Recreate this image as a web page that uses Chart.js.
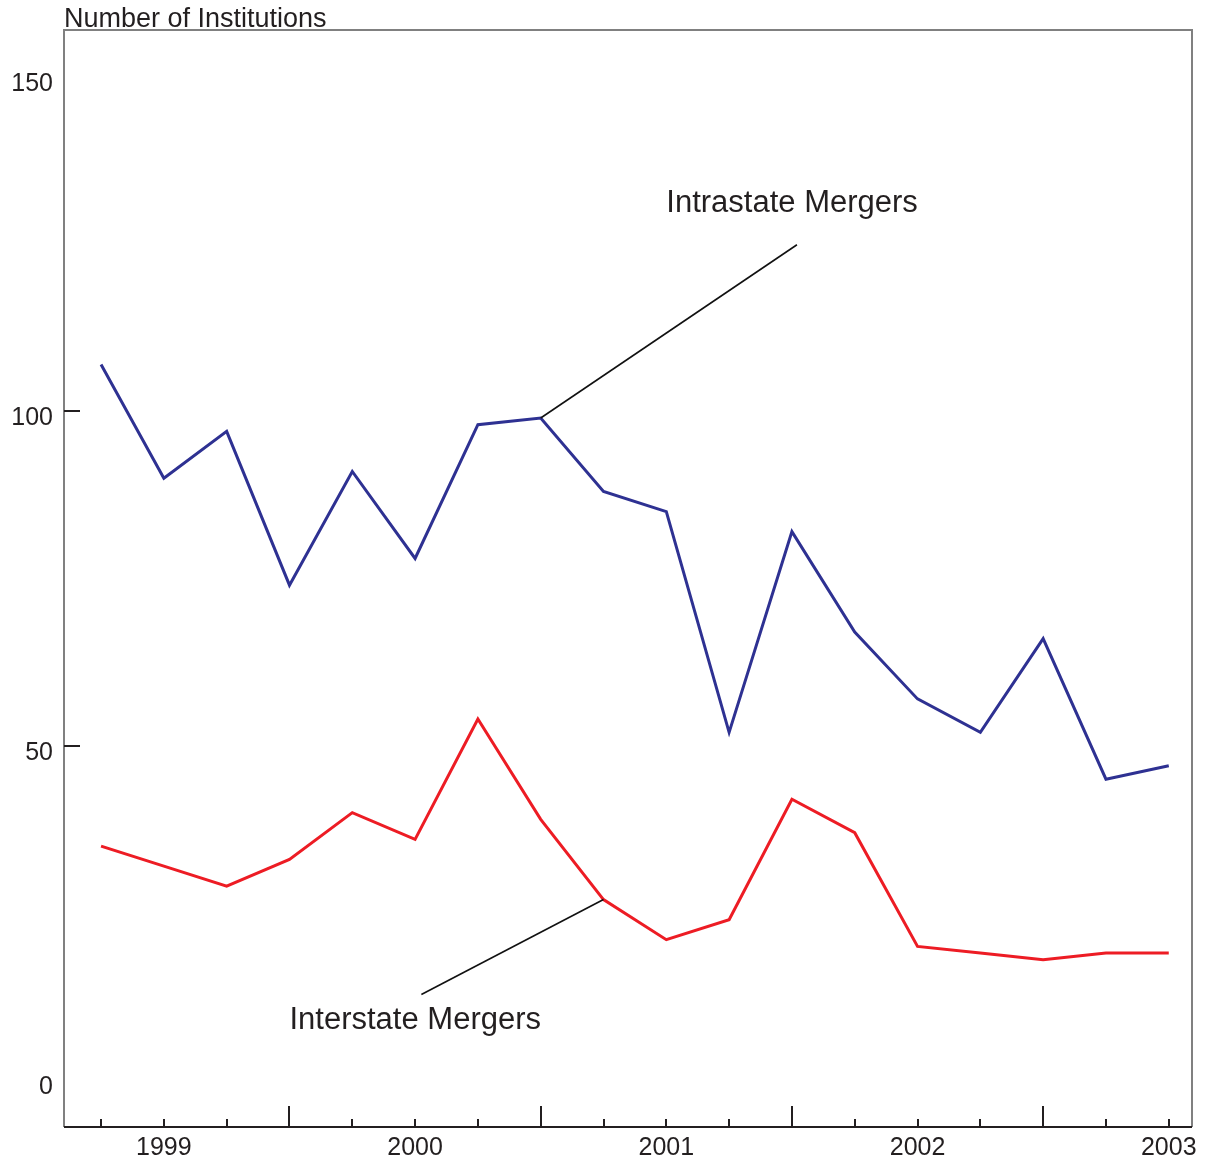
<!DOCTYPE html>
<html lang="en">
<head>
  <meta charset="UTF-8" />
  <title>Bank Mergers - Number of Institutions</title>
  <script src="https://cdn.jsdelivr.net/npm/chart.js"></script>
  <style>
    html, body { margin: 0; padding: 0; background: #fff; }
    #wrap { width: 1212px; height: 1162px; }
  </style>
</head>
<body>
  <div id="wrap"><canvas id="mergers" width="1212" height="1162"></canvas></div>

  <script>
    // ==== data (quarterly) ====
    const quarters = ['98Q4', '99Q1', '99Q2', '99Q3', '99Q4', '00Q1', '00Q2', '00Q3', '00Q4',
                      '01Q1', '01Q2', '01Q3', '01Q4', '02Q1', '02Q2', '02Q3', '02Q4', '03Q1'];
    const intrastate = [107, 90, 97, 74, 91, 78, 98, 99, 88, 85, 52, 82, 67, 57, 52, 66, 45, 47];
    const interstate = [35, 32, 29, 33, 40, 36, 54, 39, 27, 21, 24, 42, 37, 20, 19, 18, 19, 19];

    const yearLabels = ['1999', '2000', '2001', '2002', '2003'];
    const yearLabelIdx = [1, 5, 9, 13, 17];
    const majorTickIdx = [3, 7, 11, 15];
    const yTickLabels = [0, 50, 100, 150];
    const yTickMarks = [50, 100];

    const FONT = '"Liberation Sans", Arial, Helvetica, sans-serif';
    const INK = '#231f20';

    // callouts, in data units
    const callouts = [
      { text: 'Intrastate Mergers', from: [7, 99], to: [11.08, 124.9], textAt: [9.0, 131.0] },
      { text: 'Interstate Mergers', from: [8, 27], to: [5.10, 12.8], textAt: [3.0, 9.0] }
    ];

    const frame = {
      id: 'frame',
      beforeDatasetsDraw(chart) {
        const { ctx, chartArea: a, scales: { x, y } } = chart;
        ctx.save();
        // left / top / right border
        ctx.strokeStyle = '#808080';
        ctx.lineWidth = 2;
        ctx.beginPath();
        ctx.moveTo(a.left, a.bottom);
        ctx.lineTo(a.left, a.top);
        ctx.lineTo(a.right, a.top);
        ctx.lineTo(a.right, a.bottom);
        ctx.stroke();
        // bottom axis
        ctx.strokeStyle = INK;
        ctx.beginPath();
        ctx.moveTo(a.left, a.bottom);
        ctx.lineTo(a.right, a.bottom);
        ctx.stroke();

        // x ticks point up, longer ones between years
        quarters.forEach((q, i) => {
          const px = Math.round(x.getPixelForValue(i));
          const len = majorTickIdx.includes(i) ? 21 : 8;
          ctx.beginPath();
          ctx.moveTo(px, a.bottom);
          ctx.lineTo(px, a.bottom - len);
          ctx.stroke();
        });
        // y ticks point right
        yTickMarks.forEach(v => {
          const py = Math.round(y.getPixelForValue(v));
          ctx.beginPath();
          ctx.moveTo(a.left, py);
          ctx.lineTo(a.left + 16, py);
          ctx.stroke();
        });

        ctx.fillStyle = INK;
        ctx.font = '25px ' + FONT;
        ctx.textBaseline = 'middle';
        ctx.textAlign = 'right';
        yTickLabels.forEach(v => {
          ctx.fillText(String(v), a.left - 11, y.getPixelForValue(v) + 7);
        });
        ctx.textAlign = 'center';
        yearLabels.forEach((lab, k) => {
          ctx.fillText(lab, x.getPixelForValue(yearLabelIdx[k]), a.bottom + 21);
        });
        ctx.font = '27px ' + FONT;
        ctx.textAlign = 'left';
        ctx.textBaseline = 'alphabetic';
        ctx.fillText('Number of Institutions', a.left, a.top - 3);
        ctx.restore();
      },
      afterDatasetsDraw(chart) {
        const { ctx, scales: { x, y } } = chart;
        ctx.save();
        ctx.strokeStyle = '#111';
        ctx.lineWidth = 1.6;
        ctx.fillStyle = INK;
        ctx.font = '31px ' + FONT;
        ctx.textAlign = 'left';
        ctx.textBaseline = 'middle';
        callouts.forEach(c => {
          ctx.beginPath();
          ctx.moveTo(x.getPixelForValue(c.from[0]), y.getPixelForValue(c.from[1]));
          ctx.lineTo(x.getPixelForValue(c.to[0]), y.getPixelForValue(c.to[1]));
          ctx.stroke();
          ctx.fillText(c.text, x.getPixelForValue(c.textAt[0]), y.getPixelForValue(c.textAt[1]));
        });
        ctx.restore();
      }
    };

    const toPts = arr => arr.map((v, i) => ({ x: i, y: v }));

    new Chart(document.getElementById('mergers'), {
      type: 'line',
      data: {
        datasets: [
          { label: 'Intrastate Mergers', data: toPts(intrastate), borderColor: '#2e3192',
            borderWidth: 3, pointRadius: 0, tension: 0, fill: false },
          { label: 'Interstate Mergers', data: toPts(interstate), borderColor: '#ed1c24',
            borderWidth: 3, pointRadius: 0, tension: 0, fill: false }
        ]
      },
      options: {
        responsive: false,
        animation: false,
        devicePixelRatio: 1,
        layout: { padding: { left: 64, top: 30, right: 20, bottom: 35 } },
        plugins: { legend: { display: false }, tooltip: { enabled: false } },
        scales: {
          x: { type: 'linear', min: -0.59, max: 17.37, display: false },
          y: { type: 'linear', min: -7, max: 157, display: false }
        }
      },
      plugins: [frame]
    });
  </script>
</body>
</html>
